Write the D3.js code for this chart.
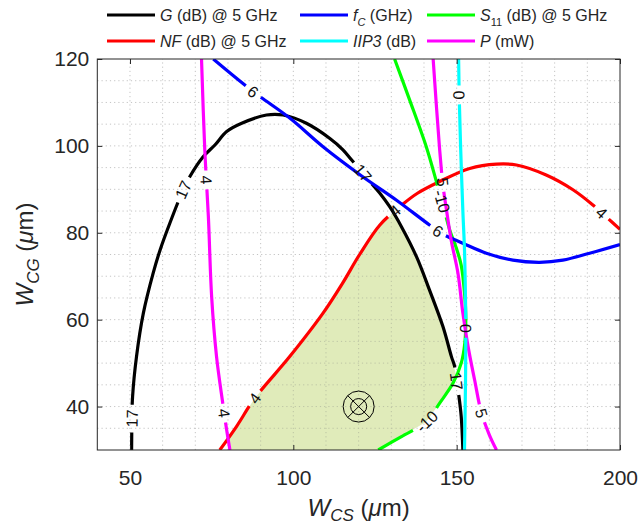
<!DOCTYPE html>
<html>
<head>
<meta charset="utf-8">
<script src="https://cdn.jsdelivr.net/npm/d3@7"></script>
<style>
  body { margin: 0; background: #fff; }
  text { font-family: "Liberation Sans", Arial, Helvetica, sans-serif; fill: #262626; }
</style>
</head>
<body>
<svg id="chart" width="639" height="527"></svg>
<script>
// axis ticks
const xTicks = [50, 100, 150, 200];
const yTicks = [40, 60, 80, 100, 120];
const xGrid = d3.range(50, 200, 10);
const yGrid = d3.range(35, 120, 5);

// contour lines, points are [W_CS, W_CG] in um
const gainPts = [[50.5,30],[50.6,37],[50.8,42.3],[52.0,51.5],[54.1,61.5],[57.1,70.7],[59.2,76],[62.2,82.2],[66.3,89.9],[68.3,92.9],[72.4,97.5],[76.0,100.2],[79.6,103.3],[84.2,105.2],[91.8,107.1],[96.9,107.1],[104.0,105.2],[111.2,101.7],[115.2,99.1],[117.8,96.8],[120.9,94.1],[123.4,91.8],[126.5,89.1],[129.5,86.0],[133.1,81.4],[137.7,74.5],[141.7,66.8],[145.8,58.4],[148.4,51.5],[149.4,49.2],[150.0,45.7],[150.7,42.3],[151.4,37.7],[151.9,30]];
const gainLabels = [[50.6,37.3],[66.3,89.9],[121.1,93.6],[150.0,45.8]];

const nfPts = [[77.5,30],[82.6,35.4],[88.2,41.9],[98.9,51.5],[109.1,61.5],[115,68.3],[120.3,75],[126.5,81.8],[132.6,86.0],[138,89.1],[144.8,91.8],[154,94.8],[162.2,95.8],[168.3,95.6],[177.4,93.3],[185.6,89.9],[191.7,86.4],[196,83.5],[200,80.8]];
const nfLabels = [[88.2,41.9],[131.3,85.0],[194.3,84.5]];

const fcPts = [[75.5,120],[87.7,112.5],[98.9,106.4],[109.1,99.8],[120.5,93.3],[131.6,87.5],[141.7,81.8],[146,79.6],[151.9,77.6],[159.1,75.3],[167.2,73.7],[175.4,73.2],[182.5,73.7],[190.7,75.3],[200,77.3]];
const fcLabels = [[87.7,112.5],[144.1,80.3]];

const s11Pts = [[131,120],[135.6,110.6],[140.7,99.8],[143.8,91.8],[145.8,86.5],[147.9,80.6],[149.9,76.5],[151.4,72.5],[152.5,65.3],[152.8,60.7],[152.5,54.6],[151.4,50.0],[148.9,45.4],[144.8,40.8],[140.7,36.5],[133.1,33.1],[126.0,30]];
const s11Labels = [[145.5,87.3],[140.8,36.7]];

const p4Pts = [[71.9,120],[72.9,99.1],[74.0,83.7],[75.0,65.3],[76.5,51.5],[78.4,40.8],[79.6,34.6],[80.6,30]];
const p4Labels = [[72.9,92.2],[78.9,38.5]];

const p5Pts = [[142.8,120],[144.8,99.1],[145.8,91.0],[146.9,85.2],[148.4,78],[150.4,70.7],[151.9,61.5],[153.5,53.8],[155.5,46.1],[157.6,38.5],[160,33.5],[162.2,30]];
const p5Labels = [[145.6,91.6],[157.6,38.5]];

const iip3Pts = [[150.6,120],[150.8,111],[151.2,100],[151.9,85],[152.4,76],[152.7,65],[152.8,58],[152.7,45],[152.4,30]];
const iip3Labels = [[150.7,111.7],[152.9,58]];

// shaded design region
const regionPts = [[80.6,30],[80.0,32.7],[82.6,35.4],[88.2,41.9],[98.9,51.5],[109.1,61.5],[115,68.3],[120.3,75],[126.5,81.8],[130.4,84.4],[133.1,81.4],[137.7,74.5],[141.7,66.8],[145.8,58.4],[148.4,51.5],[149.8,47.4],[148.9,45.4],[144.8,40.8],[140.7,36.5],[133.1,33.1],[126.0,30]];
const chosenPoint = [120, 40];

const contours = [
  {pts: gainPts, labels: gainLabels, text: '17', color: '#000000'},
  {pts: nfPts, labels: nfLabels, text: '4', color: '#ff0000'},
  {pts: s11Pts, labels: s11Labels, text: '-10', color: '#00ff00'},
  {pts: fcPts, labels: fcLabels, text: '6', color: '#0000ff'},
  {pts: p4Pts, labels: p4Labels, text: '4', color: '#ff00ff'},
  {pts: p5Pts, labels: p5Labels, text: '5', color: '#ff00ff'},
  {pts: iip3Pts, labels: iip3Labels, text: '0', color: '#00ffff'}
];

const legendItems = [
  {color: '#000000', parts: [['G', 'i'], [' (dB) @ 5 GHz', '']]},
  {color: '#0000ff', parts: [['f', 'i'], ['C', 'is'], [' (GHz)', 'u']]},
  {color: '#00ff00', parts: [['S', 'i'], ['11', 's'], [' (dB) @ 5 GHz', 'u']]},
  {color: '#ff0000', parts: [['NF', 'i'], [' (dB) @ 5 GHz', '']]},
  {color: '#00ffff', parts: [['IIP3', 'i'], [' (dB)', '']]},
  {color: '#ff00ff', parts: [['P', 'i'], [' (mW)', '']]}
];

const svg = d3.select('#chart');
const x = d3.scaleLinear().domain([40, 200]).range([97.3, 620]);
const y = d3.scaleLinear().domain([30, 120]).range([450, 59]);
const line = d3.line().x(d => x(d[0])).y(d => y(d[1])).curve(d3.curveCatmullRom.alpha(0.5));
const region = d3.line().x(d => x(d[0])).y(d => y(d[1])).curve(d3.curveLinearClosed);

svg.append('clipPath').attr('id', 'plotclip')
  .append('rect')
  .attr('x', x(40)).attr('y', y(120))
  .attr('width', x(200) - x(40)).attr('height', y(30) - y(120));
svg.append('clipPath').attr('id', 'regionclip')
  .append('path').datum(regionPts).attr('d', region);

// grid
function drawGrid(g, color) {
  g.selectAll('.gx').data(xGrid).enter().append('line')
    .attr('x1', d => x(d)).attr('x2', d => x(d))
    .attr('y1', y(30)).attr('y2', y(120));
  g.selectAll('.gy').data(yGrid).enter().append('line')
    .attr('x1', x(40)).attr('x2', x(200))
    .attr('y1', d => y(d)).attr('y2', d => y(d));
  g.selectAll('line')
    .attr('stroke', color).attr('stroke-width', 1).attr('stroke-dasharray', '1.2,3');
}
drawGrid(svg.append('g'), '#c4c4c4');

const plot = svg.append('g').attr('clip-path', 'url(#plotclip)');

plot.append('path').datum(regionPts)
  .attr('d', region)
  .attr('fill', '#e0ebba').attr('stroke', 'none');

// grid shows faintly through the shaded region
drawGrid(plot.append('g').attr('clip-path', 'url(#regionclip)'), '#bcc4a4');

function drawContour(c) {
  const path = plot.append('path').datum(c.pts)
    .attr('d', line)
    .attr('fill', 'none')
    .attr('stroke', c.color)
    .attr('stroke-width', 3.2)
    .attr('stroke-linejoin', 'round');
  const node = path.node();
  const total = node.getTotalLength();

  const labs = c.labels.map(l => {
    const px = x(l[0]), py = y(l[1]);
    let best = 0, bd = Infinity;
    for (let s = 0; s <= total; s += 0.5) {
      const p = node.getPointAtLength(s);
      const d = (p.x - px) * (p.x - px) + (p.y - py) * (p.y - py);
      if (d < bd) { bd = d; best = s; }
    }
    return best;
  }).sort((a, b) => a - b);

  const dash = [];
  let pos = 0;
  labs.forEach(s => {
    const p = node.getPointAtLength(s);
    const p0 = node.getPointAtLength(Math.max(s - 3, 0));
    const p1 = node.getPointAtLength(Math.min(s + 3, total));
    let ang = Math.atan2(p1.y - p0.y, p1.x - p0.x) * 180 / Math.PI;
    if (ang > 90) ang -= 180;
    if (ang < -90) ang += 180;
    const t = svg.append('text')
      .attr('transform', 'translate(' + p.x + ',' + p.y + ') rotate(' + ang + ')')
      .attr('text-anchor', 'middle')
      .attr('dy', '0.36em')
      .style('font-size', '16px')
      .style('fill', '#111')
      .text(c.text);
    const half = t.node().getComputedTextLength() / 2 + 5;
    dash.push(Math.max(s - half - pos, 0), 2 * half);
    pos = s + half;
  });
  dash.push(total + 10, 0);
  path.attr('stroke-dasharray', dash.join(','));
}

contours.forEach(drawContour);

// chosen design point marker
const mk = svg.append('g')
  .attr('transform', 'translate(' + x(chosenPoint[0]) + ',' + y(chosenPoint[1]) + ')')
  .attr('fill', 'none').attr('stroke', '#000').attr('stroke-width', 1);
mk.append('circle').attr('r', 15.5);
mk.append('circle').attr('r', 8);
const r45 = 15.5 * Math.SQRT1_2;
mk.append('line').attr('x1', -r45).attr('y1', -r45).attr('x2', r45).attr('y2', r45);
mk.append('line').attr('x1', -r45).attr('y1', r45).attr('x2', r45).attr('y2', -r45);

// axes
const axisColor = '#262626';
function styleAxis(g) {
  g.select('.domain').remove();
  g.selectAll('.tick line').attr('stroke', axisColor);
  g.selectAll('.tick text').style('font-size', '21px').style('fill', axisColor);
}
svg.append('g').attr('transform', 'translate(0,' + y(30) + ')')
  .call(d3.axisBottom(x).tickValues(xTicks).tickSizeInner(-5).tickSizeOuter(0).tickPadding(20))
  .call(styleAxis);
svg.append('g').attr('transform', 'translate(0,' + y(120) + ')')
  .call(d3.axisTop(x).tickValues(xTicks).tickSizeInner(-5).tickSizeOuter(0).tickFormat(''))
  .call(styleAxis);
svg.append('g').attr('transform', 'translate(' + x(40) + ',0)')
  .call(d3.axisLeft(y).tickValues(yTicks).tickSizeInner(-5).tickSizeOuter(0).tickPadding(8))
  .call(styleAxis);
svg.append('g').attr('transform', 'translate(' + x(200) + ',0)')
  .call(d3.axisRight(y).tickValues(yTicks).tickSizeInner(-5).tickSizeOuter(0).tickFormat(''))
  .call(styleAxis);

svg.append('rect')
  .attr('x', x(40)).attr('y', y(120))
  .attr('width', x(200) - x(40)).attr('height', y(30) - y(120))
  .attr('fill', 'none').attr('stroke', axisColor).attr('stroke-width', 1);

// axis titles
const xt = svg.append('text')
  .attr('x', (x(40) + x(200)) / 2).attr('y', 516)
  .attr('text-anchor', 'middle').style('font-size', '24px');
xt.append('tspan').style('font-style', 'italic').text('W');
xt.append('tspan').style('font-style', 'italic').style('font-size', '17px').attr('dy', 5).text('CS');
xt.append('tspan').attr('dy', -5).text(' (');
xt.append('tspan').style('font-style', 'italic').text('\u03bc');
xt.append('tspan').text('m)');

const yt = svg.append('text')
  .attr('transform', 'translate(33,' + (y(30) + y(120)) / 2 + ') rotate(-90)')
  .attr('text-anchor', 'middle').style('font-size', '24px');
yt.append('tspan').style('font-style', 'italic').text('W');
yt.append('tspan').style('font-style', 'italic').style('font-size', '17px').attr('dy', 6).text('CG');
yt.append('tspan').attr('dy', -6).text(' (');
yt.append('tspan').style('font-style', 'italic').text('\u03bc');
yt.append('tspan').text('m)');

// legend, 3 columns x 2 rows
const colX = [107, 300, 427];
const rowY = [15, 41];
legendItems.forEach((it, i) => {
  const cx = colX[i % 3], cy = rowY[Math.floor(i / 3)];
  svg.append('line')
    .attr('x1', cx).attr('x2', cx + 48).attr('y1', cy).attr('y2', cy)
    .attr('stroke', it.color).attr('stroke-width', 3);
  const t = svg.append('text').attr('x', cx + 53).attr('y', cy + 6).style('font-size', '16px');
  it.parts.forEach(p => {
    const ts = t.append('tspan').text(p[0]);
    if (p[1].includes('i')) ts.style('font-style', 'italic');
    if (p[1].includes('s')) ts.style('font-size', '11px').attr('dy', 5);
    if (p[1] === 'u') ts.attr('dy', -5);
  });
});
</script>
</body>
</html>
